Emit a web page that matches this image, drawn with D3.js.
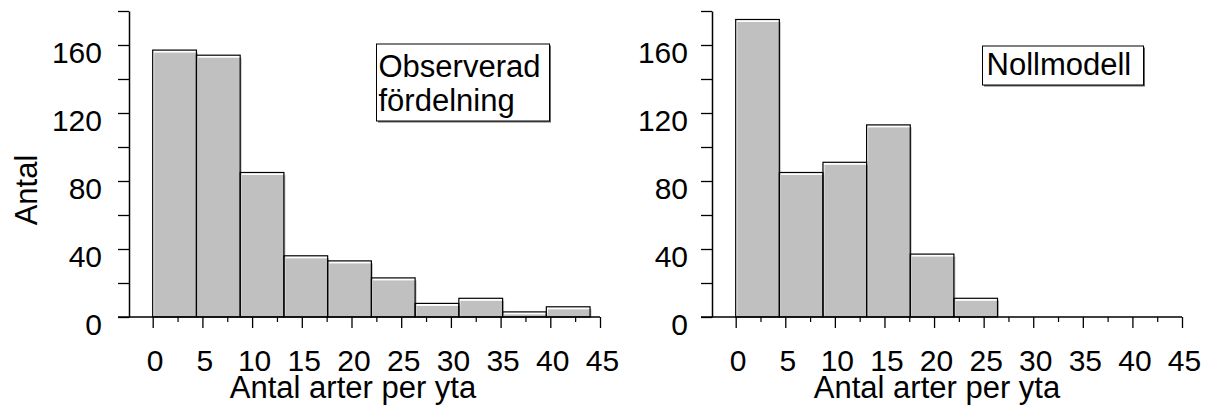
<!DOCTYPE html>
<html><head><meta charset="utf-8">
<script src="https://cdn.jsdelivr.net/npm/d3@7"></script>
<style>
body{margin:0;background:#fff;}
svg{display:block;}
text{font-family:"Liberation Sans",Arial,sans-serif;fill:#000;}
</style></head>
<body>
<svg id="c" width="1211" height="416"></svg>
<script>
// ---- data ----
const binStarts = [0, 4.4, 8.8, 13.2, 17.6, 22, 26.4, 30.8, 35.2, 39.6];
const binWidth = 4.4;
const observed = [157, 154, 85, 36, 33, 23, 8, 11, 3, 6];
const nullModel = [175, 85, 91, 113, 37, 11];
const xMajorTicks = [0, 5, 10, 15, 20, 25, 30, 35, 40, 45];
const xMinorTicks = [2.5, 7.5, 12.5, 17.5, 22.5, 27.5, 32.5, 37.5, 42.5];
const yTicks = [0, 20, 40, 60, 80, 100, 120, 140, 160, 180];
const yLabels = [0, 40, 80, 120, 160];
const legendLeft = ["Observerad", "fördelning"];
const legendRight = ["Nollmodell"];
const xTitle = "Antal arter per yta";
const yTitle = "Antal";

const svg = d3.select("#c");

function panel(cfg) {
  const g = svg.append("g");
  const x = d3.scaleLinear().domain([0, 45]).range([cfg.x0, cfg.x45]);
  const y = d3.scaleLinear().domain([0, 180]).range([317, 11]);
  const axX = cfg.axisX;

  // bars: gray fill (offset) then black outline
  const data = cfg.values.map((v, i) => ({ s: binStarts[i], v }));
  g.selectAll("rect.fill").data(data).enter().append("rect")
    .attr("class", "fill")
    .attr("x", d => x(d.s) + 1.5)
    .attr("y", d => y(d.v) + 2.5)
    .attr("width", d => x(d.s + binWidth) - x(d.s))
    .attr("height", d => y(0) - y(d.v) - 2.5)
    .attr("fill", "#c0c0c0");
  g.selectAll("rect.out").data(data).enter().append("rect")
    .attr("class", "out")
    .attr("x", d => x(d.s))
    .attr("y", d => y(d.v))
    .attr("width", d => x(d.s + binWidth) - x(d.s))
    .attr("height", d => y(0) - y(d.v))
    .attr("fill", "none")
    .attr("stroke", "#000")
    .attr("stroke-width", 1.2);

  // y axis
  const ya = g.append("g").attr("transform", `translate(${axX},0)`)
    .call(d3.axisLeft(y).tickValues(yTicks).tickSize(11).tickSizeOuter(0)
      .tickFormat(d => yLabels.includes(d) ? d : ""));
  ya.select(".domain").attr("stroke", "#000").attr("stroke-width", 1.5);
  ya.selectAll(".tick line").attr("stroke", "#000").attr("stroke-width", 1.3);
  ya.selectAll(".tick text").attr("font-size", 30).attr("x", -cfg.yLabGap)
    .attr("dy", null).attr("y", 17).attr("font-family", "Liberation Sans, Arial, sans-serif").attr("fill", "#000");

  // x axis
  const xa = g.append("g").attr("transform", "translate(0,317)")
    .call(d3.axisBottom(x).tickValues(xMajorTicks).tickSize(11).tickSizeOuter(0));
  xa.select(".domain").remove();
  xa.selectAll(".tick line").attr("stroke", "#000").attr("stroke-width", 1.3);
  xa.selectAll(".tick text").attr("font-size", 30).attr("dy", null).attr("y", 54).attr("x", 2)
    .attr("font-family", "Liberation Sans, Arial, sans-serif").attr("fill", "#000");
  const xm = g.append("g").attr("transform", "translate(0,317)")
    .call(d3.axisBottom(x).tickValues(xMinorTicks).tickSize(5).tickFormat(""));
  xm.select(".domain").remove();
  xm.selectAll(".tick line").attr("stroke", "#000").attr("stroke-width", 1.2);
  g.append("line").attr("x1", axX - 11).attr("x2", x(45)).attr("y1", 317).attr("y2", 317)
    .attr("stroke", "#000").attr("stroke-width", 1.5);

  // x title
  g.append("text").attr("x", cfg.titleX).attr("y", 398).attr("text-anchor", "middle")
    .attr("font-size", 31).text(xTitle);

  // legend box
  const L = cfg.legend;
  g.append("rect").attr("x", L.x + 1.5).attr("y", L.y + 1.5).attr("width", L.w).attr("height", L.h)
    .attr("fill", "#666");
  g.append("rect").attr("x", L.x).attr("y", L.y).attr("width", L.w).attr("height", L.h)
    .attr("fill", "#fff").attr("stroke", "#000").attr("stroke-width", 1);
  L.lines.forEach((t, i) => {
    g.append("text").attr("x", L.x + L.tx).attr("y", L.y + L.b0 + i * 34)
      .attr("font-size", 31).text(t);
  });
}

panel({ x0: 152.7, x45: 600, axisX: 129, yLabGap: 27, values: observed, titleX: 353,
  legend: { x: 376.5, y: 44, w: 173, h: 77, tx: 2, b0: 33, lines: legendLeft } });
panel({ x0: 735.7, x45: 1182, axisX: 712, yLabGap: 24, values: nullModel, titleX: 937,
  legend: { x: 982.5, y: 46, w: 161, h: 39, tx: 4, b0: 29, lines: legendRight } });

svg.append("text").attr("transform", "translate(37,190) rotate(-90)")
  .attr("text-anchor", "middle").attr("font-size", 31).text(yTitle);
</script>
</body></html>
